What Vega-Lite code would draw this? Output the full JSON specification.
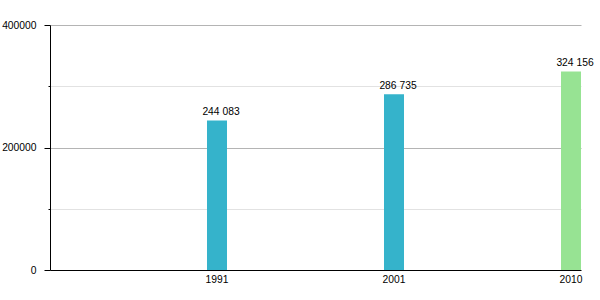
{
  "$schema": "https://vega.github.io/schema/vega-lite/v6.json",
  "autosize": {"type": "none"},
  "width": 531,
  "height": 245,
  "padding": {"left": 50, "top": 25, "right": 19, "bottom": 30},
  "background": "white",
  "config": {
    "view": {"stroke": null},
    "font": "Liberation Sans",
    "locale": {"number": {"decimal": ",", "thousands": " ", "grouping": [3], "currency": ["", ""]}}
  },
  "data": {
    "values": [
      {"year": "1991", "population": 244083, "kind": "census"},
      {"year": "2001", "population": 286735, "kind": "census"},
      {"year": "2010", "population": 324156, "kind": "latest"}
    ]
  },
  "encoding": {
    "x": {
      "field": "year",
      "type": "ordinal",
      "scale": {"paddingInner": 0.887, "paddingOuter": 0.4435, "align": 1},
      "axis": {
        "title": null,
        "labelAngle": 0,
        "ticks": false,
        "domainColor": "#000000",
        "domainWidth": 1,
        "labelFontSize": 10.3,
        "labelColor": "#000000",
        "labelPadding": 4,
        "grid": false
      }
    },
    "y": {
      "field": "population",
      "type": "quantitative",
      "scale": {"domain": [0, 400000], "nice": false},
      "axis": {
        "title": null,
        "values": [0, 100000, 200000, 300000, 400000],
        "format": "d",
        "labelExpr": "datum.value % 200000 === 0 ? datum.label : ''",
        "labelFontSize": 10.3,
        "labelColor": "#000000",
        "labelPadding": 8,
        "domainColor": "#000000",
        "domainWidth": 1,
        "tickColor": "#000000",
        "tickSize": {"condition": {"test": "datum.value % 200000 === 0", "value": 6}, "value": 2},
        "grid": true,
        "gridColor": {"condition": {"test": "datum.value % 200000 === 0", "value": "#b4b4b4"}, "value": "#e2e2e2"},
        "gridOpacity": {"condition": {"test": "datum.value === 0", "value": 0}, "value": 1}
      }
    }
  },
  "layer": [
    {
      "mark": {"type": "bar", "width": 20},
      "encoding": {
        "color": {
          "field": "kind",
          "type": "nominal",
          "scale": {"domain": ["census", "latest"], "range": ["#35b3cb", "#97e393"]},
          "legend": null
        }
      }
    },
    {
      "mark": {"type": "text", "baseline": "alphabetic", "dy": -5, "dx": 4, "fontSize": 10.3, "color": "#000000"},
      "encoding": {
        "text": {"field": "population", "type": "quantitative", "format": ",d"}
      }
    }
  ]
}
